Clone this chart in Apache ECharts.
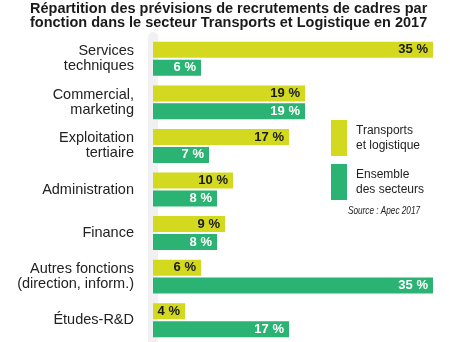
<!DOCTYPE html>
<html>
<head>
<meta charset="utf-8">
<script src="https://cdn.jsdelivr.net/npm/echarts@6/dist/echarts.min.js"></script>
<style>html,body{margin:0;padding:0;background:#fff}#c{width:450px;height:342px}</style>
</head>
<body>
<div id="c"></div>
<script>
const categories = [
  "Services\ntechniques",
  "Commercial,\nmarketing",
  "Exploitation\ntertiaire",
  "Administration",
  "Finance",
  "Autres fonctions\n(direction, inform.)",
  "Études-R&D"
];
const transportsLogistique = [35, 19, 17, 10, 9, 6, 4];
const ensembleSecteurs = [6, 19, 7, 8, 8, 35, 17];
const seriesNames = ["Transports\net logistique", "Ensemble\ndes secteurs"];
const titleText = "Répartition des prévisions de recrutements de cadres par\nfonction dans le secteur Transports et Logistique en 2017";
const sourceText = "Source : Apec 2017";

const chart = echarts.init(document.getElementById('c'), null, {renderer: 'canvas'});
const FONT = '"Liberation Sans", Arial, Helvetica, sans-serif';
const fmt = p => p.value + ' %';
chart.setOption({
  animation: false,
  title: [
    {
      text: titleText,
      left: 30,
      top: 2,
      padding: 0,
      textStyle: {fontFamily: FONT, fontSize: 14.5, fontWeight: 'bold', color: '#1a1a1a', lineHeight: 14, align: 'center'},
      textAlign: 'left'
    }
  ],
  graphic: [
    {
      type: 'text',
      left: 348,
      top: 206,
      scaleX: 0.82,
      style: {text: sourceText, font: 'italic 10px ' + FONT, fill: '#222'}
    }
  ],
  legend: {
    orient: 'vertical',
    left: 331,
    top: 120,
    padding: 0,
    itemWidth: 16,
    itemHeight: 36,
    itemGap: 8,
    icon: 'rect',
    selectedMode: false,
    textStyle: {fontFamily: FONT, fontSize: 12, color: '#222', lineHeight: 15, padding: [2, 0, 0, 4]},
    data: seriesNames
  },
  grid: {left: 153, right: 17, top: 37, height: 311, containLabel: false},
  xAxis: {
    type: 'value', min: 0, max: 35,
    show: false
  },
  yAxis: {
    type: 'category',
    data: categories,
    inverse: true,
    offset: 5,
    axisLine: {show: true, lineStyle: {color: '#f1f1f3', width: 10}},
    axisTick: {show: false},
    axisLabel: {margin: 14, fontFamily: FONT, fontSize: 14.5, color: '#222', lineHeight: 15, align: 'right'}
  },
  series: [
    {
      name: seriesNames[0],
      type: 'bar',
      data: transportsLogistique,
      barWidth: 16,
      barGap: '12%',
      itemStyle: {color: '#d3d91f'},
      label: {show: true, position: 'insideRight', distance: 5, formatter: fmt,
        fontFamily: FONT, fontSize: 13, fontWeight: 'bold', color: '#1a1a1a'}
    },
    {
      name: seriesNames[1],
      type: 'bar',
      data: ensembleSecteurs,
      barWidth: 16,
      itemStyle: {color: '#2bb373'},
      label: {show: true, position: 'insideRight', distance: 5, formatter: fmt,
        fontFamily: FONT, fontSize: 13, fontWeight: 'bold', color: '#ffffff'}
    }
  ]
});
</script>
</body>
</html>
